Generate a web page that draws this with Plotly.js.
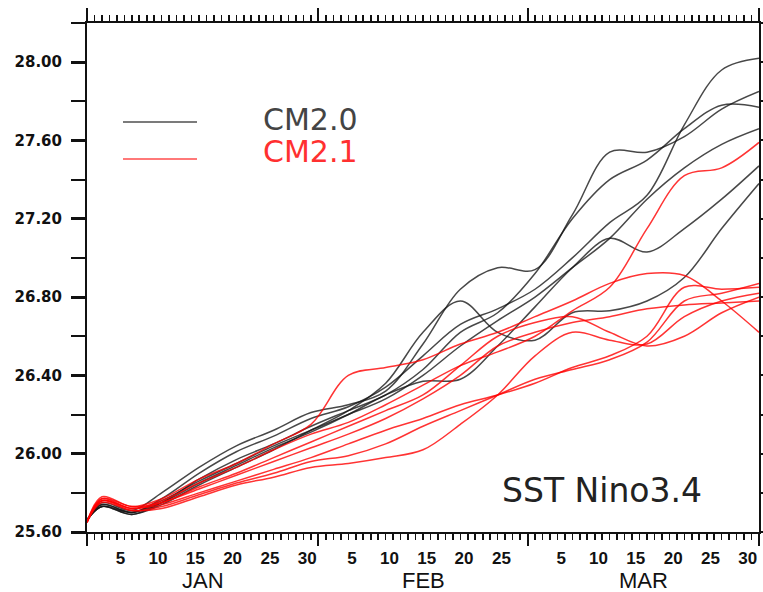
<!DOCTYPE html>
<html>
<head>
<meta charset="utf-8">
<script src="https://cdn.plot.ly/plotly-3.0.1.min.js"></script>
<style>html,body{margin:0;padding:0;background:#fff;}#chart{width:763px;height:592px;}</style>
</head>
<body>
<div id="chart"></div>
<script>
// ---- data ----
const MONTHS = ['JAN', 'FEB', 'MAR'];
const MONTH_DAYS = [31, 28, 31];
const DAY_LABELS = [5, 10, 15, 20, 25, 30];
const Y_TICKS = [25.6, 26.0, 26.4, 26.8, 27.2, 27.6, 28.0];
const DAYS = [0, 2, 6, 10, 15, 20, 25, 30, 35, 40, 45, 50, 55, 60, 65, 70, 75, 80, 85, 90];

const CM20_1 = [25.66,25.74,25.70,25.77,25.90,26.01,26.09,26.18,26.24,26.34,26.50,26.66,26.74,26.84,27.00,27.18,27.32,27.68,27.96,28.02];
const CM20_2 = [25.66,25.75,25.71,25.80,25.93,26.04,26.12,26.21,26.25,26.32,26.56,26.84,26.95,26.94,27.22,27.54,27.54,27.62,27.76,27.85];
const CM20_3 = [25.66,25.73,25.69,25.75,25.87,25.97,26.05,26.14,26.22,26.30,26.43,26.62,26.72,26.92,27.20,27.40,27.50,27.66,27.78,27.77];
const CM20_4 = [25.66,25.73,25.70,25.76,25.86,25.95,26.04,26.12,26.20,26.28,26.40,26.55,26.68,26.80,26.95,27.10,27.30,27.46,27.58,27.66];
const CM20_5 = [25.66,25.74,25.70,25.75,25.85,25.94,26.03,26.11,26.20,26.30,26.37,26.38,26.55,26.75,26.95,27.10,27.03,27.15,27.30,27.47];
const CM20_6 = [25.66,25.73,25.69,25.74,25.84,25.93,26.02,26.12,26.22,26.36,26.62,26.78,26.62,26.58,26.72,26.73,26.78,26.90,27.15,27.38];

const CM21_1 = [25.65,25.77,25.72,25.76,25.85,25.93,26.02,26.10,26.16,26.25,26.35,26.45,26.52,26.60,26.73,26.85,27.15,27.42,27.46,27.59];
const CM21_2 = [25.65,25.78,25.73,25.77,25.87,25.95,26.05,26.15,26.40,26.44,26.48,26.56,26.62,26.70,26.78,26.87,26.92,26.91,26.78,26.62];
const CM21_3 = [25.65,25.76,25.72,25.74,25.80,25.86,25.92,25.98,26.05,26.12,26.18,26.25,26.30,26.36,26.44,26.50,26.60,26.85,26.84,26.85];
const CM21_4 = [25.65,25.76,25.71,25.73,25.79,25.85,25.90,25.96,25.99,26.05,26.14,26.22,26.30,26.38,26.43,26.48,26.57,26.78,26.82,26.87];
const CM21_5 = [25.65,25.77,25.73,25.75,25.83,25.90,25.98,26.06,26.14,26.22,26.30,26.45,26.60,26.67,26.70,26.62,26.55,26.60,26.72,26.80];
const CM21_6 = [25.65,25.76,25.72,25.75,25.82,25.89,25.96,26.03,26.10,26.18,26.28,26.40,26.55,26.62,26.67,26.70,26.74,26.76,26.77,26.78];
const CM21_7 = [25.65,25.75,25.71,25.72,25.78,25.84,25.88,25.93,25.95,25.98,26.02,26.15,26.30,26.50,26.62,26.58,26.56,26.70,26.78,26.82];

const CM20 = [CM20_1, CM20_2, CM20_3, CM20_4, CM20_5, CM20_6];
const CM21 = [CM21_1, CM21_2, CM21_3, CM21_4, CM21_5, CM21_6, CM21_7];

// ---- derived axis helpers ----
const starts = [];
let acc = 0;
MONTH_DAYS.forEach(n => { starts.push(acc); acc += n; });
const TOTAL = acc;
const boundaries = starts.concat([TOTAL]);
const labelVals = [], labelText = [];
starts.forEach((s, i) => {
  DAY_LABELS.forEach(d => { if (d <= MONTH_DAYS[i]) { labelVals.push(s + d - 0.5); labelText.push(String(d)); } });
});
const yRange = [25.6, 28.2];

const traces = [];
CM20.forEach(v => traces.push({x: DAYS, y: v, xaxis: 'x', yaxis: 'y', mode: 'lines', showlegend: false, hoverinfo: 'skip',
  line: {color: 'rgba(20,20,20,0.78)', width: 1.5, shape: 'spline', smoothing: 1}}));
CM21.forEach(v => traces.push({x: DAYS, y: v, xaxis: 'x2', yaxis: 'y', mode: 'lines', showlegend: false, hoverinfo: 'skip',
  line: {color: 'rgba(255,0,0,0.8)', width: 1.5, shape: 'spline', smoothing: 1}}));
traces.push({x: [], y: [], xaxis: 'x3', yaxis: 'y2', mode: 'lines', showlegend: false});

const px = (x) => (x - 87) / 672;
const py = (y) => (532 - y) / 509;

const annotations = MONTHS.map((m, i) => ({
  text: m, xref: 'x', yref: 'paper', x: starts[i] + MONTH_DAYS[i] / 2, y: 0, yanchor: 'middle', yshift: -48,
  height: 20, valign: 'middle',
  showarrow: false, font: {family: 'Liberation Sans, Arial, sans-serif', size: 22, color: '#111'}
}));
annotations.push({text: 'CM2.0', xref: 'paper', yref: 'paper', x: px(261), y: py(119), xanchor: 'left', yanchor: 'middle',
  showarrow: false, font: {family: 'DejaVu Sans', size: 30, color: '#444'}});
annotations.push({text: 'CM2.1', xref: 'paper', yref: 'paper', x: px(261), y: py(151), xanchor: 'left', yanchor: 'middle',
  showarrow: false, font: {family: 'DejaVu Sans', size: 30, color: '#ff3030'}});
annotations.push({text: 'SST Nino3.4', xref: 'paper', yref: 'paper', x: px(500), y: py(490), xanchor: 'left', yanchor: 'middle',
  showarrow: false, font: {family: 'DejaVu Sans', size: 33, color: '#222'}});

const shapes = [
  {type: 'line', xref: 'paper', yref: 'paper', x0: px(123), x1: px(197), y0: py(122), y1: py(122), line: {color: 'rgba(20,20,20,0.75)', width: 1.6}},
  {type: 'line', xref: 'paper', yref: 'paper', x0: px(123), x1: px(197), y0: py(159), y1: py(159), line: {color: 'rgba(255,0,0,0.7)', width: 1.6}}
];

const layout = {
  width: 763, height: 592,
  margin: {l: 87, r: 4, t: 23, b: 60, pad: 0},
  paper_bgcolor: '#fff', plot_bgcolor: '#fff',
  showlegend: false,
  xaxis: {range: [0, TOTAL], tickmode: 'array', tickvals: boundaries, ticktext: boundaries.map(() => ''),
    ticks: 'outside', ticklen: 12, tickwidth: 2, tickcolor: '#111', showgrid: false, zeroline: false,
    showline: true, linewidth: 2, linecolor: '#111', side: 'bottom', anchor: 'y',
    minor: {dtick: 1, tick0: 0, ticks: 'outside', ticklen: 6, tickwidth: 1.6, tickcolor: '#111', showgrid: false}},
  xaxis2: {range: [0, TOTAL], overlaying: 'x', anchor: 'y', side: 'bottom', tickmode: 'array', tickvals: labelVals, ticktext: labelText,
    ticks: '', showline: false, showgrid: false, zeroline: false, ticklabelstandoff: 14,
    tickfont: {family: 'Liberation Sans, Arial, sans-serif', size: 17, weight: 'bold', color: '#111'}},
  xaxis3: {range: [0, TOTAL], overlaying: 'x', anchor: 'y', side: 'top', tickmode: 'array', tickvals: boundaries,
    ticks: 'outside', ticklen: 13, tickwidth: 2, tickcolor: '#111', showticklabels: false, showgrid: false, zeroline: false,
    showline: true, linewidth: 2, linecolor: '#111',
    minor: {dtick: 1, tick0: 0, ticks: 'outside', ticklen: 6, tickwidth: 1.6, tickcolor: '#111', showgrid: false}},
  yaxis: {range: yRange, tickmode: 'array', tickvals: Y_TICKS, ticktext: Y_TICKS.map(v => v.toFixed(2)),
    ticks: 'outside', ticklen: 14, tickwidth: 3, tickcolor: '#111', showgrid: false, zeroline: false,
    showline: true, linewidth: 2, linecolor: '#111', anchor: 'x', ticklabelstandoff: 6,
    tickfont: {family: 'DejaVu Sans', size: 15, weight: 'bold', color: '#111'},
    minor: {dtick: 0.2, tick0: 25.6, ticks: 'outside', ticklen: 14, tickwidth: 2, tickcolor: '#111', showgrid: false}},
  yaxis2: {range: yRange, overlaying: 'y', side: 'right', anchor: 'x', tickmode: 'linear', tick0: 25.6, dtick: 0.2,
    ticks: 'outside', ticklen: 4, tickwidth: 2, tickcolor: '#111', showticklabels: false, showgrid: false, zeroline: false,
    showline: true, linewidth: 2, linecolor: '#111'},
  annotations: annotations,
  shapes: shapes
};

Plotly.newPlot('chart', traces, layout, {staticPlot: true, displayModeBar: false});
</script>
</body>
</html>
